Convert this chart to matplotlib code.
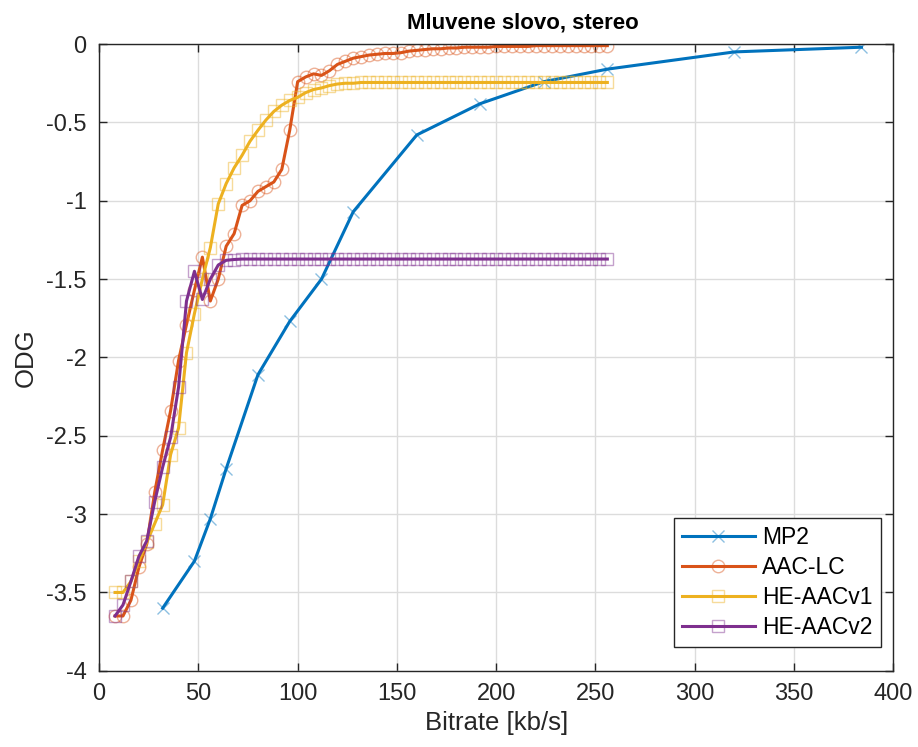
import matplotlib
matplotlib.use("Agg")
import matplotlib.pyplot as plt
from matplotlib.colors import to_rgba
from matplotlib.ticker import FuncFormatter
import numpy as np

plt.rcParams['font.family'] = ['Liberation Sans', 'DejaVu Sans']
plt.rcParams['axes.unicode_minus'] = False

# MPEG-1 Layer II bitrates and measured ODG
mp2_rate = [32, 48, 56, 64, 80, 96, 112, 128, 160, 192, 224, 256, 320, 384]
mp2_odg = [-3.60, -3.30, -3.03, -2.71, -2.11, -1.77, -1.50, -1.07, -0.58,
           -0.38, -0.24, -0.16, -0.05, -0.02]

# AAC family encoders, 8 to 256 kb/s in 4 kb/s steps
aac_rate = list(range(8, 257, 4))
aac_lc_odg = [-3.65, -3.65, -3.55, -3.34, -3.19, -2.86, -2.59, -2.34, -2.02, -1.79,
              -1.57, -1.36, -1.64, -1.50, -1.29, -1.21, -1.03, -1.00, -0.94, -0.91,
              -0.88, -0.80, -0.55, -0.24, -0.21, -0.19, -0.20, -0.17, -0.13, -0.11,
              -0.09, -0.08, -0.07, -0.065, -0.06, -0.06, -0.055, -0.045, -0.04, -0.035,
              -0.03, -0.03, -0.025, -0.025, -0.02, -0.02, -0.02, -0.02, -0.015, -0.015,
              -0.015, -0.015, -0.015, -0.01, -0.01, -0.01, -0.01, -0.01, -0.01, -0.01,
              -0.01, -0.01, -0.01]
he_v1_odg = [-3.50, -3.50, -3.43, -3.30, -3.18, -3.06, -2.94, -2.62, -2.45, -1.97,
             -1.72, -1.50, -1.30, -1.02, -0.89, -0.79, -0.71, -0.62, -0.55, -0.485,
             -0.43, -0.39, -0.36, -0.34, -0.31, -0.29, -0.28, -0.265, -0.255, -0.25,
             -0.25, -0.245] + [-0.245] * 31
he_v2_odg = [-3.65, -3.58, -3.43, -3.27, -3.17, -2.92, -2.70, -2.51, -2.19, -1.64,
             -1.45, -1.63, -1.50, -1.41, -1.38, -1.375] + [-1.372] * 47

labels = ['MP2', 'AAC-LC', 'HE-AACv1', 'HE-AACv2']
colors = ['#0072BD', '#D95319', '#EDB120', '#7E2F8E']
markers = ['x', 'o', 's', 's']

fig = plt.figure(figsize=(9.18, 7.47), dpi=100)
ax = fig.add_axes([0.108, 0.102, 0.865, 0.839])

series = [(mp2_rate, mp2_odg), (aac_rate, aac_lc_odg),
          (aac_rate, he_v1_odg), (aac_rate, he_v2_odg)]
msizes = [8, 9, 8, 8]
for (x, y), lab, c, m, ms in zip(series, labels, colors, markers, msizes):
    ax.plot(x, y, color=c, lw=2.2, marker=m, ms=ms, mfc='none',
            mec=to_rgba(c, 0.45), mew=1.0, label=lab)

ax.set_xlim(0, 400)
ax.set_ylim(-4, 0)
ax.set_xticks(np.arange(0, 401, 50))
ax.set_yticks(np.arange(-4, 0.01, 0.5))
ax.yaxis.set_major_formatter(FuncFormatter(lambda v, p: '%g' % v))
ax.grid(True, color='#dcdcdc', lw=1.0)
ax.set_axisbelow(True)
ax.tick_params(direction='in', length=6, width=1, colors='#262626',
               labelsize=17, top=True, right=True, pad=9)
for s in ax.spines.values():
    s.set_color('#262626')
    s.set_linewidth(1.0)

ax.set_xlabel('Bitrate [kb/s]', fontsize=18.5, color='#262626', labelpad=4)
ax.set_ylabel('ODG', fontsize=18.5, color='#262626', labelpad=6)
ax.set_title('Mluvene slovo, stereo', fontsize=16, fontweight='bold',
             x=0.534, pad=11)

leg = ax.legend(loc='lower right', bbox_to_anchor=(0.984, 0.038),
                borderaxespad=0, fontsize=16.5, fancybox=False, framealpha=1,
                edgecolor='#262626', handlelength=3.2, handletextpad=0.3,
                numpoints=1, borderpad=0.35, labelspacing=0.3)
leg.get_frame().set_linewidth(1.0)

fig.savefig('out.png', dpi=100)
